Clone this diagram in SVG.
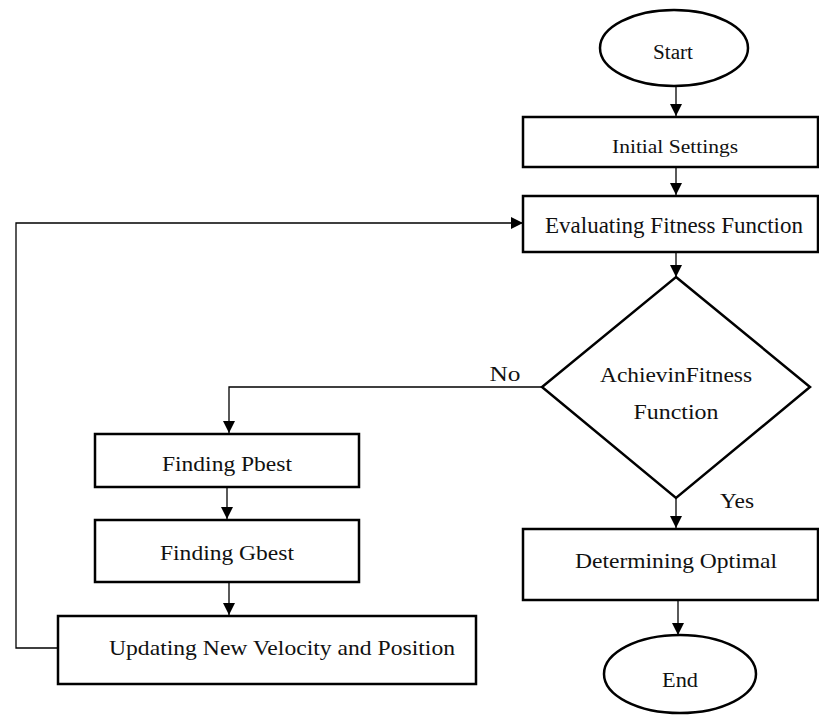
<svg xmlns="http://www.w3.org/2000/svg" width="819" height="715" viewBox="0 0 819 715">
<style>
.box{fill:#fff;stroke:#000;stroke-width:2.5}
.ln{fill:none;stroke:#000;stroke-width:1.3}
.t{font-family:"Liberation Serif","DejaVu Serif",serif;fill:#111;text-anchor:middle;font-size:22px}
</style>
<defs>
<marker id="ah" markerWidth="12" markerHeight="12" refX="12" refY="6" orient="auto" markerUnits="userSpaceOnUse">
<path d="M0,0 L12,6 L0,12 Z" fill="#000"/>
</marker>
</defs>
<rect width="819" height="715" fill="#fff"/>
<g id="connectors">
<line class="ln" x1="676" y1="86" x2="676" y2="116" marker-end="url(#ah)"/>
<line class="ln" x1="676" y1="167" x2="676" y2="195" marker-end="url(#ah)"/>
<line class="ln" x1="676" y1="252" x2="676" y2="277" marker-end="url(#ah)"/>
<line class="ln" x1="676" y1="498" x2="676" y2="528" marker-end="url(#ah)"/>
<line class="ln" x1="678" y1="600" x2="678" y2="635" marker-end="url(#ah)"/>
<polyline class="ln" points="542,387 229,387 229,433" marker-end="url(#ah)"/>
<line class="ln" x1="227" y1="487" x2="227" y2="519" marker-end="url(#ah)"/>
<line class="ln" x1="229" y1="582" x2="229" y2="615" marker-end="url(#ah)"/>
<polyline class="ln" points="58,648 16,648 16,223 523,223" marker-end="url(#ah)"/>
<text class="t" x="505" y="381" textLength="31" lengthAdjust="spacingAndGlyphs">No</text>
<text class="t" x="737" y="508" textLength="34" lengthAdjust="spacingAndGlyphs">Yes</text>
</g>
<g id="start">
<ellipse class="box" cx="674" cy="48" rx="74" ry="38"/>
<text class="t" x="673" y="59" style="font-size:20px" textLength="40" lengthAdjust="spacingAndGlyphs">Start</text>
</g>
<g id="initial">
<rect class="box" x="523" y="117" width="295" height="50"/>
<text class="t" x="675" y="153" style="font-size:19px" textLength="126" lengthAdjust="spacingAndGlyphs">Initial Settings</text>
</g>
<g id="evaluate">
<rect class="box" x="523" y="196" width="295" height="56"/>
<text class="t" x="674" y="233" style="font-size:23px" textLength="258" lengthAdjust="spacingAndGlyphs">Evaluating Fitness Function</text>
</g>
<g id="decision">
<polygon class="box" points="676,277 810,387 676,498 542,387"/>
<text class="t" x="676" y="382" textLength="152" lengthAdjust="spacingAndGlyphs">AchievinFitness</text>
<text class="t" x="676" y="419" textLength="85" lengthAdjust="spacingAndGlyphs">Function</text>
</g>
<g id="pbest">
<rect class="box" x="95" y="434" width="264" height="53"/>
<text class="t" x="227" y="471" textLength="130" lengthAdjust="spacingAndGlyphs">Finding Pbest</text>
</g>
<g id="gbest">
<rect class="box" x="95" y="520" width="264" height="62"/>
<text class="t" x="227" y="560" textLength="134" lengthAdjust="spacingAndGlyphs">Finding Gbest</text>
</g>
<g id="update">
<rect class="box" x="58" y="616" width="418" height="68"/>
<text class="t" x="282" y="655" textLength="346" lengthAdjust="spacingAndGlyphs">Updating New Velocity and Position</text>
</g>
<g id="determine">
<rect class="box" x="523" y="529" width="295" height="71"/>
<text class="t" x="676" y="568" textLength="202" lengthAdjust="spacingAndGlyphs">Determining Optimal</text>
</g>
<g id="end">
<ellipse class="box" cx="680" cy="674" rx="76" ry="39"/>
<text class="t" x="680" y="687" textLength="36" lengthAdjust="spacingAndGlyphs">End</text>
</g>
</svg>
